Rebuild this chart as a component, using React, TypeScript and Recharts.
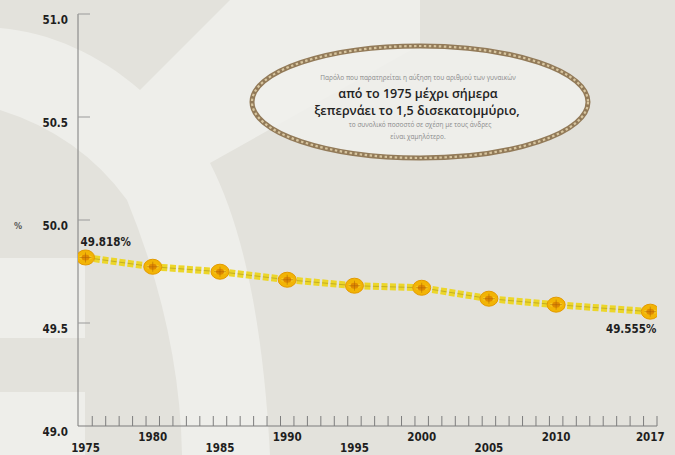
import React from 'react';
import { LineChart, Line, XAxis, YAxis, LabelList } from 'recharts';

const years = [1975, 1980, 1985, 1990, 1995, 2000, 2005, 2010, 2017];
const womenShare = [49.818, 49.773, 49.749, 49.71, 49.681, 49.671, 49.618, 49.589, 49.555];
const yearLabels = [1975, 1980, 1985, 1990, 1995, 2000, 2005, 2010, 2017];
const lowYearLabels = [1975, 1985, 1995, 2005];
const yTicks = [49, 49.5, 50, 50.5, 51];
const minorTicks: number[] = [];
for (let y = 1975.5; y <= 2017.5; y += 1) minorTicks.push(y);

const noteLines = [
  'Παρόλο που παρατηρείται η αύξηση του αριθμού των γυναικών',
  'από το 1975 μέχρι σήμερα',
  'ξεπερνάει το 1,5 δισεκατομμύριο,',
  'το συνολικό ποσοστό σε σχέση με τους άνδρες',
  'είναι χαμηλότερο.',
];

const data = years.map((year, i) => ({ year, value: womenShare[i] }));
const allXTicks = [...yearLabels, ...minorTicks].sort((a, b) => a - b);

const W = 675;
const H = 455;
const GREY = '#e3e2dc';
const LIGHT = '#eeeeea';
const LABEL_FONT = '"DejaVu Sans Condensed", "DejaVu Sans", sans-serif';
const LABEL_SIZE = 11.5;

const XTick = (props: any) => {
  const { x, y, payload } = props;
  const v = payload.value;
  if (Number.isInteger(v)) {
    const low = lowYearLabels.includes(v);
    return (
      <text x={x} y={y + (low ? 26 : 15)} textAnchor="middle" fontFamily={LABEL_FONT} fontWeight="bold" fontSize={LABEL_SIZE} fill="#1e1e1e">
        {v}
      </text>
    );
  }
  return <line x1={x} x2={x} y1={y} y2={y - 10} stroke="#7d7d7d" strokeWidth={1} />;
};

const YTick = (props: any) => {
  const { x, y, payload } = props;
  const v = payload.value as number;
  return (
    <g>
      {v !== 49 && <line x1={x} x2={x + 12} y1={y} y2={y} stroke="#9a9a9a" strokeWidth={1} />}
      <text x={x - 10} y={y + 10} textAnchor="end" fontFamily={LABEL_FONT} fontWeight="bold" fontSize={LABEL_SIZE} fill="#1e1e1e">
        {v.toFixed(1)}
      </text>
    </g>
  );
};

const Rosette = (props: any) => {
  const { cx, cy, index } = props;
  if (cx == null || cy == null) return <g key={`d${index}`} />;
  return (
    <g key={`d${index}`}>
      <ellipse cx={cx} cy={cy} rx={9} ry={7.5} fill="#f2b405" stroke="#e39a00" strokeWidth={1} />
      <ellipse cx={cx - 4} cy={cy} rx={2.5} ry={2} fill="#f7c820" />
      <ellipse cx={cx + 4} cy={cy} rx={2.5} ry={2} fill="#f7c820" />
      <ellipse cx={cx} cy={cy} rx={4} ry={3} fill="#e08a00" />
      <line x1={cx - 6} x2={cx + 6} y1={cy} y2={cy} stroke="#a8600a" strokeWidth={0.8} opacity={0.6} />
      <line x1={cx} x2={cx} y1={cy - 5} y2={cy + 5} stroke="#a8600a" strokeWidth={0.8} opacity={0.6} />
    </g>
  );
};

const EndLabel = (props: any) => {
  const { x, y, index, value } = props;
  const last = data.length - 1;
  if (index !== 0 && index !== last) return null;
  const txt = `${Number(value).toFixed(3)}%`;
  if (index === 0) {
    return (
      <text x={x - 5} y={y - 11} textAnchor="start" fontFamily={LABEL_FONT} fontWeight="bold" fontSize={LABEL_SIZE} fill="#1e1e1e">
        {txt}
      </text>
    );
  }
  return (
    <text x={x + 6} y={y + 21} textAnchor="end" fontFamily={LABEL_FONT} fontWeight="bold" fontSize={LABEL_SIZE} fill="#1e1e1e">
      {txt}
    </text>
  );
};

const Background = () => (
  <svg width={W} height={H} style={{ position: 'absolute', left: 0, top: 0 }}>
    <rect x={0} y={0} width={W} height={H} fill={GREY} />
    <path
      fill={LIGHT}
      d="M0,28 C50,32 100,55 140,90 L230,0 L420,0 L420,45 L210,163 Q260,260 270,455 L182,455 Q180,330 127,200 Q80,135 0,110 Z"
    />
    <rect x={0} y={258} width={85} height={80} fill={LIGHT} />
    <rect x={0} y={392} width={85} height={63} fill={LIGHT} />
  </svg>
);

const Note = () => (
  <svg width={W} height={H} style={{ position: 'absolute', left: 0, top: 0, pointerEvents: 'none' }}>
    <ellipse cx={420} cy={102} rx={168} ry={56} fill="#f0f0ec" opacity={0.85} />
    <ellipse cx={420} cy={102} rx={168} ry={56} fill="none" stroke="#927a58" strokeWidth={5} />
    <ellipse cx={420} cy={102} rx={168} ry={56} fill="none" stroke="#d8c6a0" strokeWidth={2.2} strokeDasharray="2.5 2.5" />
    <text x={418} y={80} textAnchor="middle" fontFamily='"Open Sans", sans-serif' fontSize={6.5} fill="#8a8a8a">
      {noteLines[0]}
    </text>
    <text x={418} y={98} textAnchor="middle" fontFamily='"Open Sans", sans-serif' fontWeight={600} fontSize={12.5} fill="#222">
      {noteLines[1]}
    </text>
    <text x={417} y={115} textAnchor="middle" fontFamily='"Open Sans", sans-serif' fontWeight={600} fontSize={12.5} fill="#222">
      {noteLines[2]}
    </text>
    <text x={420} y={127} textAnchor="middle" fontFamily='"Open Sans", sans-serif' fontSize={6.5} fill="#8a8a8a">
      {noteLines[3]}
    </text>
    <text x={418} y={139} textAnchor="middle" fontFamily='"Open Sans", sans-serif' fontSize={6.5} fill="#8a8a8a">
      {noteLines[4]}
    </text>
    <text x={18} y={229} textAnchor="middle" fontFamily={LABEL_FONT} fontWeight="bold" fontSize={9} fill="#555">
      %
    </text>
  </svg>
);

export default function App() {
  return (
    <div style={{ position: 'absolute', left: 0, top: 0, width: W, height: H, overflow: 'hidden' }}>
      <Background />
      <Note />
      <div style={{ position: 'absolute', left: 0, top: 0 }}>
        <LineChart width={W} height={H} data={data} margin={{ top: 14, right: 18, bottom: 0, left: 0 }}>
          <XAxis
            dataKey="year"
            type="number"
            domain={[1974.44, 2017.5]}
            ticks={allXTicks}
            interval={0}
            tickLine={false}
            tickSize={0}
            tickMargin={0}
            height={29}
            axisLine={{ stroke: '#7d7d7d', strokeWidth: 1 }}
            tick={<XTick />}
            allowDataOverflow
          />
          <YAxis
            type="number"
            domain={[49, 51]}
            ticks={yTicks}
            interval={0}
            width={78}
            tickLine={false}
            tickSize={0}
            tickMargin={0}
            axisLine={{ stroke: '#7d7d7d', strokeWidth: 1 }}
            tick={<YTick />}
            allowDataOverflow
          />
          <Line
            dataKey="value"
            type="linear"
            stroke="#ecd62a"
            strokeWidth={7}
            strokeDasharray="6 2.5"
            dot={false}
            activeDot={false}
            isAnimationActive={false}
          />
          <Line
            dataKey="value"
            type="linear"
            stroke="#a8921e"
            strokeWidth={1}
            strokeDasharray="6 2.5"
            strokeOpacity={0.6}
            dot={(p: any) => <Rosette {...p} key={`r${p.index}`} />}
            activeDot={false}
            isAnimationActive={false}
          >
            <LabelList dataKey="value" content={<EndLabel />} />
          </Line>
        </LineChart>
      </div>
    </div>
  );
}
